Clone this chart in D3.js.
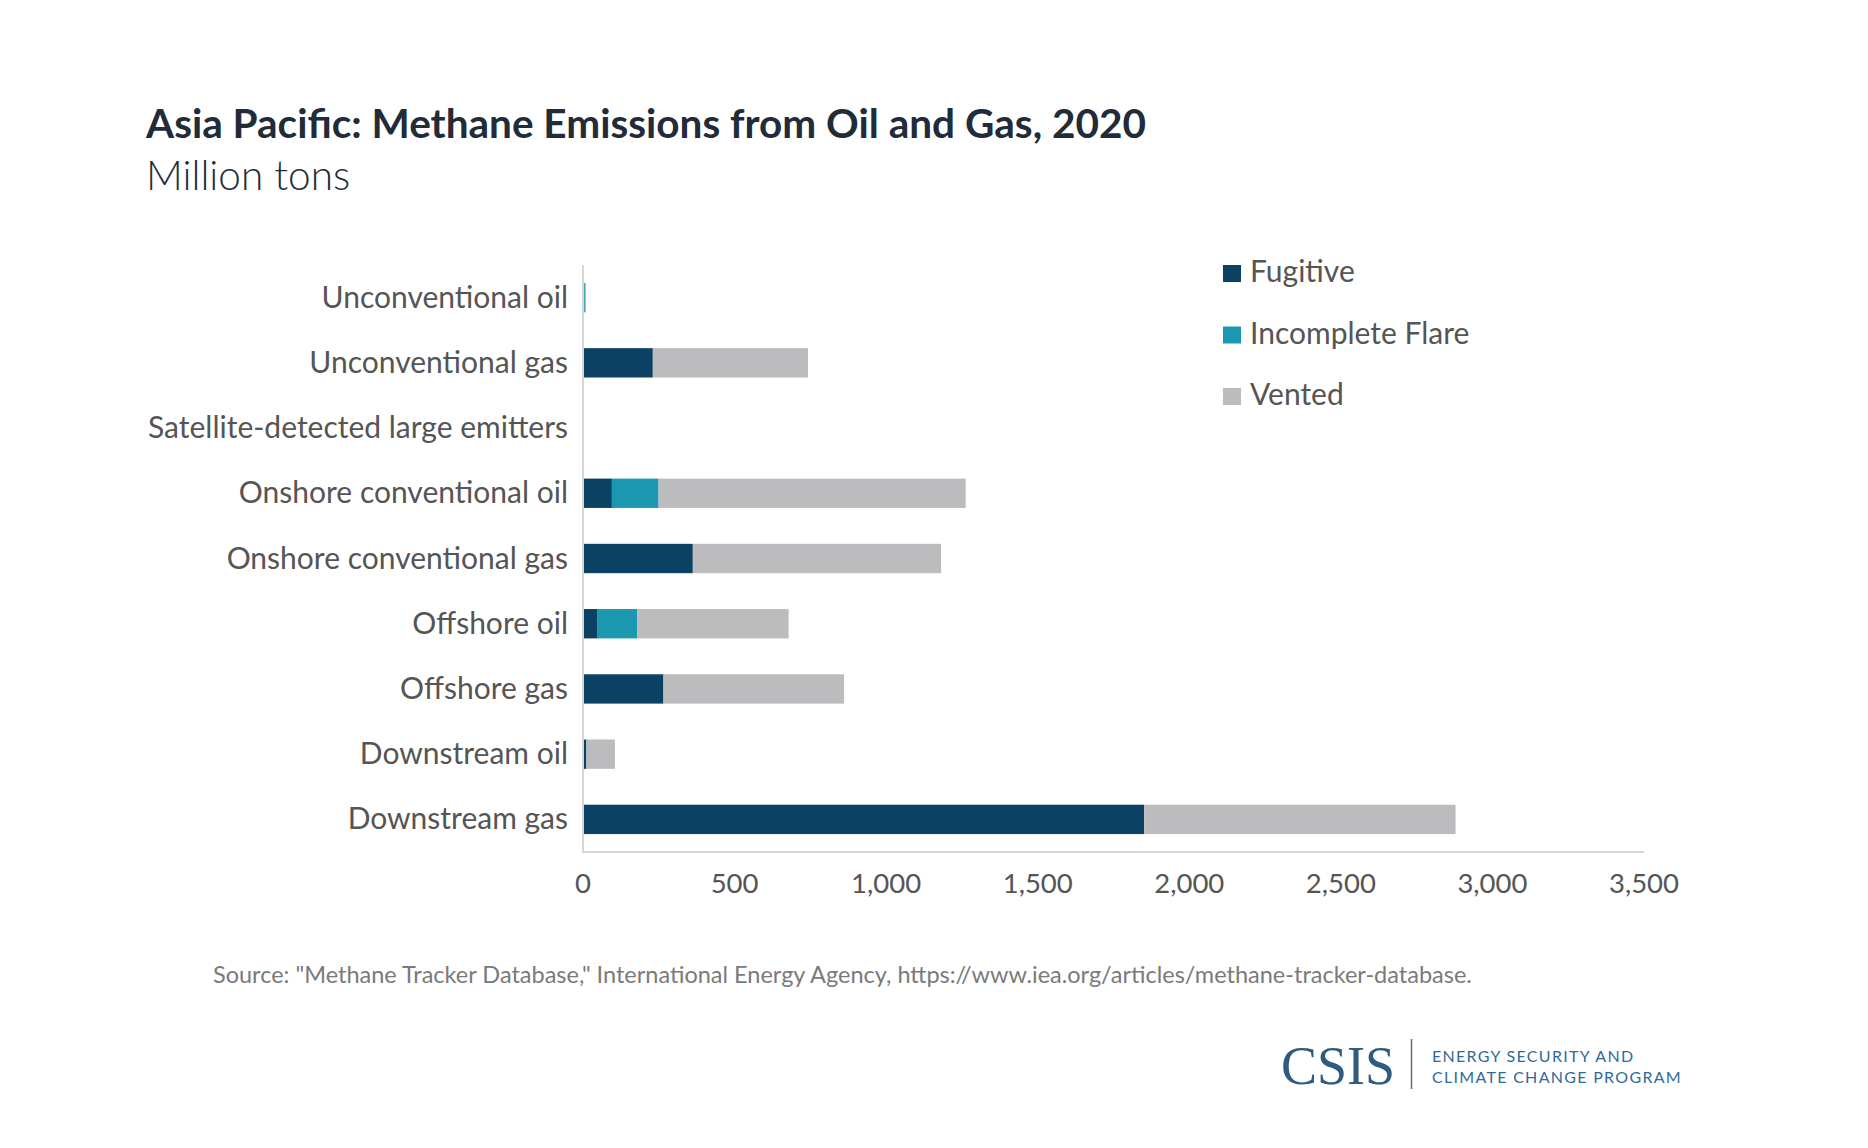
<!DOCTYPE html>
<html lang="en">
<head>
<meta charset="utf-8">
<title>Asia Pacific: Methane Emissions from Oil and Gas, 2020</title>
<script src="https://cdn.jsdelivr.net/npm/d3@7"></script>
<style>
  body { margin: 0; background: #fff; }
  text { font-family: Lato, "Noto Sans", sans-serif; }
</style>
</head>
<body>
<script>
// data
var categories = ["Unconventional oil", "Unconventional gas", "Satellite-detected large emitters",
                  "Onshore conventional oil", "Onshore conventional gas", "Offshore oil",
                  "Offshore gas", "Downstream oil", "Downstream gas"];
var seriesNames = ["Fugitive", "Incomplete Flare", "Vented"];
var fugitive = [1, 227, 0, 92, 359, 45, 262, 8, 1848];
var flare    = [4, 0, 0, 154, 0, 131, 0, 0, 0];
var vented   = [0, 512, 0, 1013, 819, 499, 596, 94, 1027];
var xTicks = [0, 500, 1000, 1500, 2000, 2500, 3000, 3500];
var colors = ["#0b4264", "#1b98af", "#bcbbbd"];

var W = 1868, H = 1148;
var svg = d3.select("body").append("svg")
    .attr("width", W).attr("height", H);
svg.append("rect").attr("width", W).attr("height", H).attr("fill", "#fff");

// titles
svg.append("text").attr("x", 146).attr("y", 138)
    .style("font-size", "40.5px").style("font-weight", 700).attr("fill", "#222b38")
    .text("Asia Pacific: Methane Emissions from Oil and Gas, 2020");
svg.append("text").attr("x", 146).attr("y", 190)
    .style("font-size", "40.5px").style("font-weight", 300).attr("fill", "#222b38")
    .text("Million tons");

var x = d3.scaleLinear().domain([0, 3500]).range([583, 1644]);
var y = d3.scaleBand().domain(categories).range([265, 852]).paddingInner(0.55).paddingOuter(0.275);

var rows = categories.map(function (c, i) {
    return { cat: c, Fugitive: fugitive[i], "Incomplete Flare": flare[i], Vented: vented[i] };
});
var stacked = d3.stack().keys(seriesNames)(rows);

svg.append("g").selectAll("g")
    .data(stacked)
    .enter().append("g")
    .attr("fill", function (d, i) { return colors[i]; })
    .selectAll("rect")
    .data(function (d) { return d; })
    .enter().append("rect")
    .attr("x", function (d) { return x(d[0]) + 1; })
    .attr("y", function (d) { return y(d.data.cat); })
    .attr("width", function (d) { return Math.max(0, x(d[1]) - x(d[0])); })
    .attr("height", y.bandwidth());

// axis lines
svg.append("line").attr("x1", 583).attr("x2", 583).attr("y1", 265).attr("y2", 852)
    .attr("stroke", "#d6d6d6").attr("stroke-width", 2);
svg.append("line").attr("x1", 582).attr("x2", 1644).attr("y1", 852).attr("y2", 852)
    .attr("stroke", "#d6d6d6").attr("stroke-width", 2);

// category labels
svg.append("g").selectAll("text")
    .data(categories)
    .enter().append("text")
    .attr("x", 568)
    .attr("y", function (d) { return y(d) + y.bandwidth() / 2 + 10; })
    .attr("text-anchor", "end")
    .style("font-size", "30px").attr("fill", "#555555")
    .text(function (d) { return d; });

// tick labels
svg.append("g").selectAll("text")
    .data(xTicks)
    .enter().append("text")
    .attr("x", function (d) { return x(d); })
    .attr("y", 893)
    .attr("text-anchor", "middle")
    .style("font-size", "27.5px").attr("fill", "#555555")
    .text(d3.format(","));

// legend
var leg = svg.append("g").selectAll("g")
    .data(seriesNames)
    .enter().append("g")
    .attr("transform", function (d, i) { return "translate(1223," + (265 + i * 61.5) + ")"; });
leg.append("rect").attr("width", 18).attr("height", 17)
    .attr("fill", function (d, i) { return colors[i]; });
leg.append("text").attr("x", 27).attr("y", 17)
    .style("font-size", "30px").attr("fill", "#555555")
    .text(function (d) { return d; });

// source
svg.append("text").attr("x", 213).attr("y", 983)
    .style("font-size", "23.5px").attr("fill", "#7a7a7a")
    .text("Source: \"Methane Tracker Database,\" International Energy Agency, https://www.iea.org/articles/methane-tracker-database.");

// logo
svg.append("text").attr("x", 1281).attr("y", 1084)
    .style("font-family", "'Liberation Serif', 'DejaVu Serif', serif")
    .style("font-size", "54px").attr("fill", "#2f5b7e")
    .text("CSIS");
svg.append("line").attr("x1", 1411.5).attr("x2", 1411.5).attr("y1", 1039).attr("y2", 1089)
    .attr("stroke", "#5a6f80").attr("stroke-width", 1.5);
svg.append("text").attr("x", 1432).attr("y", 1062)
    .style("font-size", "16px").style("letter-spacing", "1.3px").attr("fill", "#2f6a9a")
    .text("ENERGY SECURITY AND");
svg.append("text").attr("x", 1432).attr("y", 1083)
    .style("font-size", "16px").style("letter-spacing", "1.3px").attr("fill", "#2f6a9a")
    .text("CLIMATE CHANGE PROGRAM");
</script>
</body>
</html>
